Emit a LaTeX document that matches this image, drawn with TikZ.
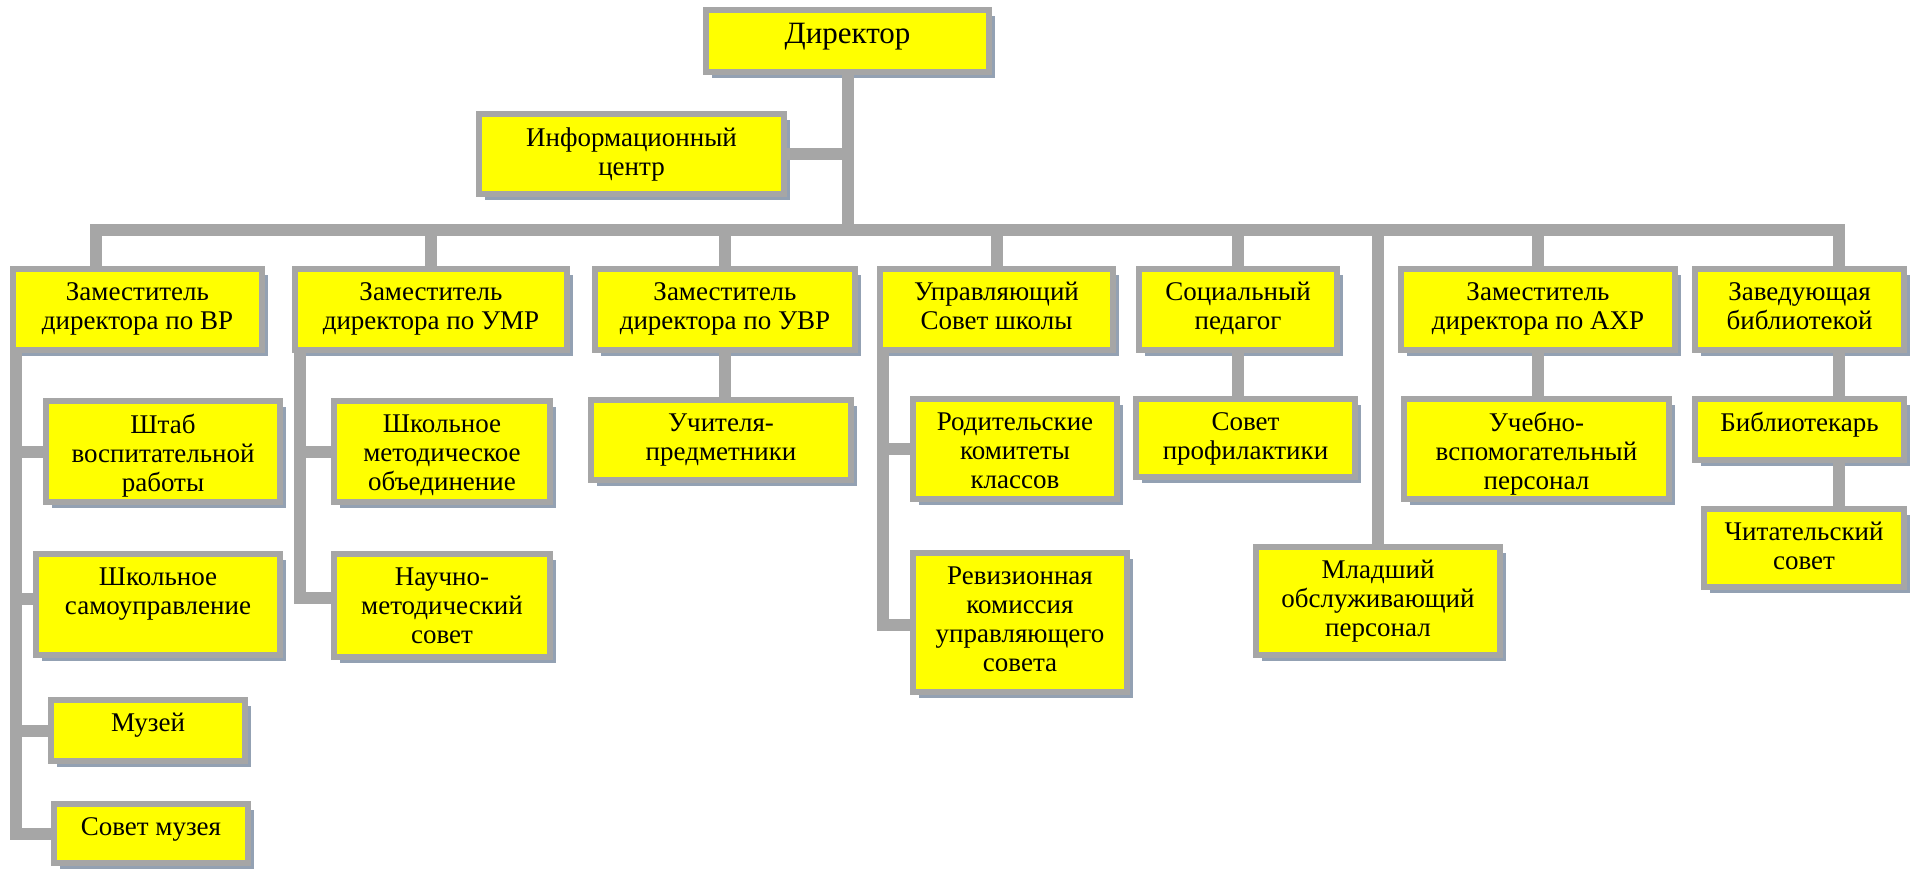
\documentclass[tikz,border=0pt]{standalone}
\usepackage{fontspec}
\setmainfont{Liberation Serif}
\usetikzlibrary{fit, shadows}

\definecolor{linegray}{HTML}{A6A6A6}
\definecolor{boxyellow}{HTML}{FFFF00}
\definecolor{shadowblue}{HTML}{93A1B3}

\begin{document}
\begin{tikzpicture}[x=0.5pt, y=-0.5pt,
        orgbox/.style={draw=linegray, line width=3pt, fill=boxyellow,
            inner sep=0pt, outer sep=0pt,
            drop shadow={shadow xshift=3pt, shadow yshift=-3pt, fill=shadowblue, opacity=1}},
        boxtext/.style={anchor=north, yshift=-6.5pt, align=center, inner sep=0pt,
            font=\fontsize{13.5}{14.5}\selectfont},
        link/.style={draw=linegray, line width=6pt}]

    \useasboundingbox (0,0) rectangle (1917,868);

    % top
    \node[orgbox, fit={(706,10) (989,72)}, label={[boxtext, font=\fontsize{15.5}{17}\selectfont]north:Директор}] (dir) {};
    \node[orgbox, fit={(479,114) (784,194)}, label={[boxtext]north:Информационный\\центр}] (info) {};

    % first row
    \node[orgbox, fit={(13,269) (262,350)}, label={[boxtext]north:Заместитель\\директора по ВР}] (vr) {};
    \node[orgbox, fit={(295,269) (567,350)}, label={[boxtext]north:Заместитель\\директора по УМР}] (umr) {};
    \node[orgbox, fit={(595,269) (855,350)}, label={[boxtext]north:Заместитель\\директора по УВР}] (uvr) {};
    \node[orgbox, fit={(880,269) (1113,350)}, label={[boxtext]north:Управляющий\\Совет школы}] (us) {};
    \node[orgbox, fit={(1139,269) (1337,350)}, label={[boxtext]north:Социальный\\педагог}] (soc) {};
    \node[orgbox, fit={(1401,269) (1675,350)}, label={[boxtext]north:Заместитель\\директора по АХР}] (ahr) {};
    \node[orgbox, fit={(1695,269) (1904,350)}, label={[boxtext]north:Заведующая\\библиотекой}] (lib) {};

    % lower boxes
    \node[orgbox, fit={(46,401) (280,502)}, label={[boxtext]north:Штаб\\воспитательной\\работы}] (shtab) {};
    \node[orgbox, fit={(36,554) (280,655)}, label={[boxtext]north:Школьное\\самоуправление}] (samoupr) {};
    \node[orgbox, fit={(51,700) (245,761)}, label={[boxtext]north:Музей}] (muzei) {};
    \node[orgbox, fit={(54,804) (248,863)}, label={[boxtext]north:Совет музея}] (sovmuz) {};
    \node[orgbox, fit={(334,401) (550,502)}, label={[boxtext]north:Школьное\\методическое\\объединение}] (shmo) {};
    \node[orgbox, fit={(334,554) (550,657)}, label={[boxtext]north:Научно-\\методический\\совет}] (nms) {};
    \node[orgbox, fit={(591,400) (851,480)}, label={[boxtext]north:Учителя-\\предметники}] (uch) {};
    \node[orgbox, fit={(913,399) (1117,499)}, label={[boxtext]north:Родительские\\комитеты\\классов}] (rod) {};
    \node[orgbox, fit={(913,553) (1127,692)}, label={[boxtext]north:Ревизионная\\комиссия\\управляющего\\совета}] (rev) {};
    \node[orgbox, fit={(1136,399) (1355,477)}, label={[boxtext]north:Совет\\профилактики}] (sp) {};
    \node[orgbox, fit={(1256,547) (1500,655)}, label={[boxtext]north:Младший\\обслуживающий\\персонал}] (ml) {};
    \node[orgbox, fit={(1404,399) (1669,499)}, label={[boxtext]north:Учебно-\\вспомогательный\\персонал}] (uvp) {};
    \node[orgbox, fit={(1695,399) (1904,460)}, label={[boxtext]north:Библиотекарь}] (bib) {};
    \node[orgbox, fit={(1704,509) (1904,587)}, label={[boxtext]north:Читательский\\совет}] (chit) {};

    % bus and links
    \coordinate (bvr) at (96,230);
    \coordinate (blib) at (1839,230);
    \draw[link] (bvr |- vr.north) -- (bvr) -- (blib) -- (blib |- lib.north);
    \draw[link] (dir.south) -- (dir.south |- bvr);
    \draw[link] (info.east) -- (info.east -| dir.south);
    \foreach \n in {umr, uvr, us, soc, ahr, ml}
        \draw[link] (\n.north |- bvr) -- (\n.north);

    \coordinate (vrx) at (16,834);
    \draw[link] (vr.south -| vrx) -- (vrx) -- (vrx -| sovmuz.west);
    \draw[link] (shtab.west -| vrx) -- (shtab.west);
    \draw[link] ([yshift=3pt]samoupr.west -| vrx) -- ([yshift=3pt]samoupr.west);
    \draw[link] (muzei.west -| vrx) -- (muzei.west);

    \coordinate (umrx) at (300,598);
    \draw[link] (umr.south -| umrx) -- (umrx) -- (umrx -| nms.west);
    \draw[link] (shmo.west -| umrx) -- (shmo.west);

    \coordinate (usx) at (883,625);
    \draw[link] (us.south -| usx) -- (usx) -- (usx -| rev.west);
    \draw[link] (rod.west -| usx) -- (rod.west);

    \draw[link] (uvr.south) -- (uvr.south |- uch.north);
    \draw[link] (soc.south) -- (soc.south |- sp.north);
    \draw[link] (ahr.south) -- (ahr.south |- uvp.north);
    \draw[link] (blib |- lib.south) -- (blib |- bib.north);
    \draw[link] (blib |- bib.south) -- (blib |- chit.north);
\end{tikzpicture}
\end{document}
